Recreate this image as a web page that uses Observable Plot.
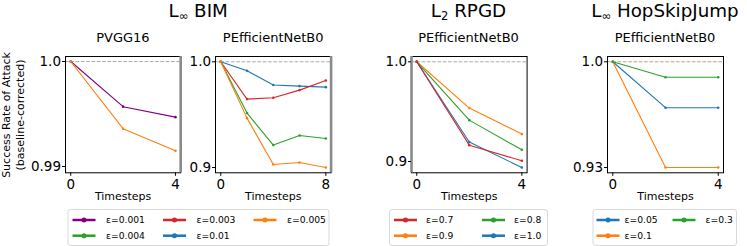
<!DOCTYPE html>
<html><head><meta charset="utf-8">
<script src="https://cdn.jsdelivr.net/npm/d3@7"></script>
<script src="https://cdn.jsdelivr.net/npm/@observablehq/plot@0.6"></script>
<style>
body{margin:0;background:#fff;}
#wrap{position:relative;width:747px;height:246px;overflow:hidden;font-family:"DejaVu Sans";background:#fff;}
.panel{position:absolute;}
#overlay{position:absolute;left:0;top:0;pointer-events:none;}
</style>
</head><body><div id="wrap"></div>
<script>
// ---------- data ----------
const groupTitles = [["L", "\u221e", " BIM"], ["L", "2", " RPGD"], ["L", "\u221e", " HopSkipJump"]];
const panelTitles = ["PVGG16", "PEfficientNetB0", "PEfficientNetB0", "PEfficientNetB0"];
const yLabelLines = ["Success Rate of Attack", "(baseline-corrected)"];
const xLabel = "Timesteps";

// BIM, PVGG16
const bimVggSteps = [0, 2, 4];
const bimVggEps001 = [1.0, 0.9957, 0.9947];
const bimVggEps005 = [1.0, 0.9936, 0.9915];
// BIM, PEfficientNetB0
const bimEffSteps = [0, 2, 4, 6, 8];
const bimEffEps003 = [1.0, 0.9647, 0.9660, 0.9732, 0.9823];
const bimEffEps005 = [1.0, 0.9467, 0.9028, 0.9047, 0.9000];
const bimEffEps004 = [1.0, 0.9515, 0.9212, 0.9303, 0.9275];
const bimEffEps01  = [1.0, 0.9915, 0.9780, 0.9770, 0.9760];
// RPGD, PEfficientNetB0
const rpgdSteps = [0, 2, 4];
const rpgdEps07 = [1.0, 0.9164, 0.9007];
const rpgdEps09 = [1.0, 0.9536, 0.9275];
const rpgdEps08 = [1.0, 0.9415, 0.9117];
const rpgdEps10 = [1.0, 0.9195, 0.8940];
// HopSkipJump, PEfficientNetB0
const hsjSteps = [0, 2, 4];
const hsjEps005 = [1.0, 0.9696, 0.9696];
const hsjEps01  = [1.0, 0.9300, 0.9300];
const hsjEps03  = [1.0, 0.9898, 0.9898];

// legend labels (column-major like the reference)
const bimLegend = ["\u03b5=0.001", "\u03b5=0.004", "\u03b5=0.003", "\u03b5=0.01", "\u03b5=0.005"];
const rpgdLegend = ["\u03b5=0.7", "\u03b5=0.9", "\u03b5=0.8", "\u03b5=1.0"];
const hsjLegend = ["\u03b5=0.05", "\u03b5=0.1", "\u03b5=0.3"];

const colorOf = {
  "\u03b5=0.001": "#800080", "\u03b5=0.003": "#d62728", "\u03b5=0.005": "#ff7f0e",
  "\u03b5=0.004": "#2ca02c", "\u03b5=0.01": "#1f77b4",
  "\u03b5=0.7": "#d62728", "\u03b5=0.9": "#ff7f0e", "\u03b5=0.8": "#2ca02c", "\u03b5=1.0": "#1f77b4",
  "\u03b5=0.05": "#1f77b4", "\u03b5=0.1": "#ff7f0e", "\u03b5=0.3": "#2ca02c"
};

function rows(steps, series) {
  const out = [];
  for (const [label, vals] of series) vals.forEach((v, i) => out.push({t: steps[i], v, eps: label}));
  return out;
}

const panels = [
  {data: rows(bimVggSteps, [["\u03b5=0.001", bimVggEps001], ["\u03b5=0.005", bimVggEps005]]),
   fl: 65.3, fr: 180.5, xd: [-0.2, 4.2], yd: [0.98940, 1.00048], xt: [0, 4], yt: [0.99, 1.0],
   yf: d => d === 1 ? "1.0" : "0.99", gray: 4.2, dash: "#aaaaaa"},
  {data: rows(bimEffSteps, [["\u03b5=0.01", bimEffEps01], ["\u03b5=0.003", bimEffEps003], ["\u03b5=0.004", bimEffEps004], ["\u03b5=0.005", bimEffEps005]]),
   fl: 215.4, fr: 331, xd: [-0.4, 8.4], yd: [0.895, 1.005], xt: [0, 8], yt: [0.9, 1.0],
   yf: d => d === 1 ? "1.0" : "0.9", gray: 8.4, dash: "#aaaaaa"},
  {data: rows(rpgdSteps, [["\u03b5=0.9", rpgdEps09], ["\u03b5=0.8", rpgdEps08], ["\u03b5=1.0", rpgdEps10], ["\u03b5=0.7", rpgdEps07]]),
   fl: 410.7, fr: 526.3, xd: [-0.2, 4.2], yd: [0.8887, 1.0053], xt: [0, 4], yt: [0.9, 1.0],
   yf: d => d === 1 ? "1.0" : "0.9", gray: -0.2, dash: "#aaaaaa"},
  {data: rows(hsjSteps, [["\u03b5=0.05", hsjEps005], ["\u03b5=0.1", hsjEps01], ["\u03b5=0.3", hsjEps03]]),
   fl: 607, fr: 723, xd: [-0.2, 4.2], yd: [0.9265, 1.0035], xt: [0, 4], yt: [0.93, 1.0],
   yf: d => d === 1 ? "1.0" : "0.93", gray: null, dash: "#b9a385"}
];

const wrap = document.getElementById("wrap");
const frameTop = 56, frameBottom = 172.3;
const mL = 50, mR = 6, mT = 6, mB = 44;

panels.forEach(p => {
  const marks = [
    Plot.ruleY([1.0], {stroke: p.dash, strokeWidth: 1, strokeDasharray: "3.7,1.6"}),
    Plot.line(p.data, {x: "t", y: "v", z: "eps", stroke: "eps", strokeWidth: 1.1}),
    Plot.dot(p.data, {x: "t", y: "v", fill: "eps", r: 1.3, stroke: null}),
    Plot.frame({stroke: "black", strokeWidth: 1})
  ];
  if (p.gray !== null) marks.push(Plot.ruleX([p.gray], {stroke: "#8a8a8a", strokeWidth: 2.6}));
  marks.push(
    Plot.axisX({ticks: p.xt, tickSize: 3.5, tickPadding: 3, fontSize: 13.5, label: null, tickFormat: d => String(d)}),
    Plot.axisY({ticks: p.yt, tickSize: 3, tickPadding: 1.5, fontSize: 13.5, label: null, tickFormat: p.yf}),
    Plot.text([xLabel], {frameAnchor: "bottom", dy: 27.2, fontSize: 11, text: d => d, lineAnchor: "bottom"})
  );
  const chart = Plot.plot({
    width: p.fr - p.fl + mL + mR,
    height: frameBottom - frameTop + mT + mB,
    marginLeft: mL, marginRight: mR, marginTop: mT, marginBottom: mB,
    x: {domain: p.xd},
    y: {domain: p.yd},
    color: {domain: Object.keys(colorOf), range: Object.values(colorOf)},
    style: {background: "transparent", overflow: "visible", fontFamily: "DejaVu Sans", color: "black", fontSize: "13.5px"},
    marks
  });
  chart.classList.add("panel");
  chart.style.left = (p.fl - mL) + "px";
  chart.style.top = (frameTop - mT) + "px";
  wrap.appendChild(chart);
});

// ---------- overlay text & legends ----------
const svg = d3.select(wrap).append("svg").attr("id", "overlay")
  .attr("width", 747).attr("height", 246)
  .style("font-family", "DejaVu Sans");

const groupCenters = [198.2, 468.5, 665];
groupTitles.forEach((g, i) => {
  const t = svg.append("text").attr("x", groupCenters[i]).attr("y", 17)
    .attr("text-anchor", "middle").attr("font-size", 18.3).attr("fill", "black");
  t.append("tspan").text(g[0]);
  t.append("tspan").attr("font-size", 11.5).attr("dy", 3.2).text(g[1]);
  t.append("tspan").attr("dy", -3.2).text(g[2]);
});

panels.forEach((p, i) => {
  svg.append("text").attr("x", (p.fl + p.fr) / 2).attr("y", 41.5)
    .attr("text-anchor", "middle").attr("font-size", 13).text(panelTitles[i]);
});

yLabelLines.forEach((s, i) => {
  const x = i === 0 ? 10 : 24.3;
  svg.append("text").attr("transform", `translate(${x},115) rotate(-90)`)
    .attr("text-anchor", "middle").attr("font-size", 11).text(s);
});

function legend(box, entries) {
  svg.append("rect").attr("x", box.x + 0.5).attr("y", box.y + 0.5)
    .attr("width", box.w).attr("height", box.h).attr("rx", 2.5)
    .attr("fill", "white").attr("stroke", "#d9d9d9").attr("stroke-width", 1);
  entries.forEach(e => {
    const c = colorOf[e.label];
    svg.append("line").attr("x1", e.x).attr("x2", e.x + 23).attr("y1", e.y).attr("y2", e.y)
      .attr("stroke", c).attr("stroke-width", 2.5);
    svg.append("circle").attr("cx", e.x + 11.5).attr("cy", e.y).attr("r", 2.5).attr("fill", c);
    svg.append("text").attr("x", e.tx).attr("y", e.y + 3.3).attr("font-size", 9.2).text(e.label);
  });
}

const rowY = [220, 235.7];
legend({x: 67.5, y: 209, w: 261, h: 36}, bimLegend.map((l, i) => {
  const col = Math.floor(i / 2), row = i % 2;
  const lx = [72.5, 163, 253.5][col];
  return {label: l, x: lx, y: rowY[row], tx: lx + 33.5};
}));
legend({x: 389, y: 209, w: 158, h: 36}, rpgdLegend.map((l, i) => {
  const col = Math.floor(i / 2), row = i % 2;
  const lx = [394, 482][col];
  return {label: l, x: lx, y: rowY[row], tx: lx + 32};
}));
legend({x: 592.5, y: 209, w: 143.5, h: 36}, hsjLegend.map((l, i) => {
  const col = Math.floor(i / 2), row = i % 2;
  const lx = [596.5, 672.5][col];
  return {label: l, x: lx, y: rowY[row], tx: lx + (col === 0 ? 28 : 33)};
}));
</script>
</body></html>
